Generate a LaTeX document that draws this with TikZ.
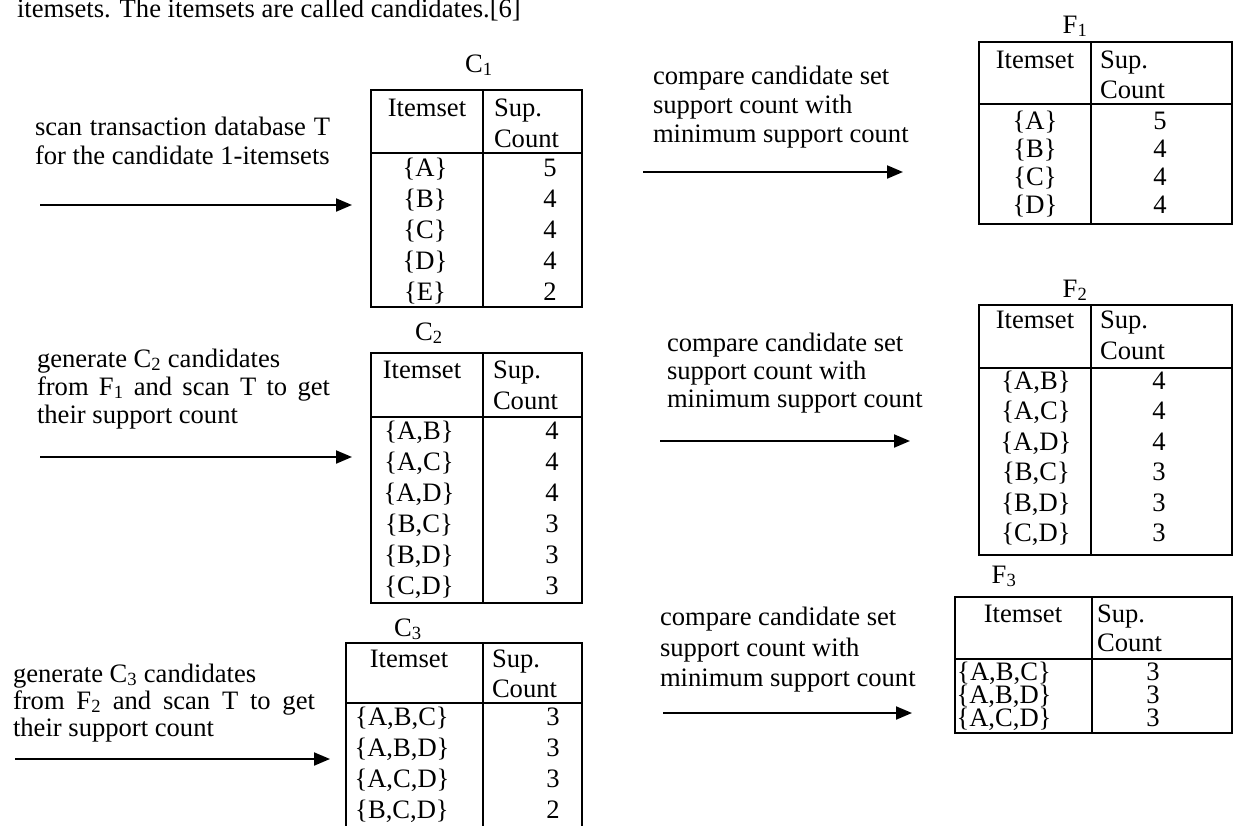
\documentclass[tikz,border=0pt]{standalone}
\usepackage{fontspec}
\setmainfont{Liberation Serif}
\usetikzlibrary{arrows.meta}
\newcommand\bodyfont{\fontsize{26.6}{29}\selectfont}
\newcommand\tframe[6]{%
  \draw[frame] (#1,#4) rectangle (#3,#6);
  \draw[frame] (#1,#5) -- (#3,#5);
  \draw[frame] (#2,#4) -- (#2,#6);}
\newcommand\thead[5]{%
  \node[ct] (#1it) at (#2,#4) {Itemset};
  \node[lt] (#1sup) at (#3,#4) {Sup.};
  \node[lt] (#1cnt) at (#3,#5) {Count};}
\newcommand\trow[6]{%
  \node[ct] (#1i) at (#2,#4) {#5};
  \node[ct] (#1n) at (#3,#4) {#6};}
\tikzset{
  txt/.style={inner sep=0pt, outer sep=0pt, font=\bodyfont},
  lt/.style={txt, anchor=base west},
  ct/.style={txt, anchor=base},
  frame/.style={line width=2pt},
  flow/.style={line width=2pt, -{Triangle[length=16pt,width=13pt]}},
}
\begin{document}
\begin{tikzpicture}[x=1pt,y=-1pt]
\useasboundingbox (0,0) rectangle (1234,825);
\clip (0,0) rectangle (1234,825);

% top text
\node[lt] (top) at (17,17) {itemsets. The itemsets are called candidates.[6]};

% ---------- left texts and arrows
\node[lt] (l1a) at (35,135) {\makebox[295pt][s]{scan transaction database T}};
\node[lt] (l1b) at (35,164) {for the candidate 1-itemsets};
\coordinate (a1s) at (40,205); \coordinate (a1e) at (352,205);
\draw[flow] (a1s) -- (a1e);

\node[lt] (l2a) at (37,367) {generate C\textsubscript{2} candidates};
\node[lt] (l2b) at (37,395) {\makebox[293pt][s]{from F\textsubscript{1} and scan T to get}};
\node[lt] (l2c) at (37,423) {their support count};
\coordinate (a2s) at (40,457); \coordinate (a2e) at (352,457);
\draw[flow] (a2s) -- (a2e);

\node[lt] (l3a) at (13,682) {generate C\textsubscript{3} candidates};
\node[lt] (l3b) at (13,709) {\makebox[302pt][s]{from F\textsubscript{2} and scan T to get}};
\node[lt] (l3c) at (13,736) {their support count};
\coordinate (a3s) at (15,759); \coordinate (a3e) at (330,759);
\draw[flow] (a3s) -- (a3e);

% ---------- middle texts and arrows
\node[lt] (m1a) at (653,84) {compare candidate set};
\node[lt] (m1b) at (653,113) {support count with};
\node[lt] (m1c) at (653,142) {minimum support count};
\coordinate (b1s) at (643,172); \coordinate (b1e) at (903,172);
\draw[flow] (b1s) -- (b1e);

\node[lt] (m2a) at (667,351) {compare candidate set};
\node[lt] (m2b) at (667,379) {support count with};
\node[lt] (m2c) at (667,407) {minimum support count};
\coordinate (b2s) at (660,441); \coordinate (b2e) at (910,441);
\draw[flow] (b2s) -- (b2e);

\node[lt] (m3a) at (660,625) {compare candidate set};
\node[lt] (m3b) at (660,656) {support count with};
\node[lt] (m3c) at (660,686) {minimum support count};
\coordinate (b3s) at (663,713); \coordinate (b3e) at (912,713);
\draw[flow] (b3s) -- (b3e);

% ---------- C1
\node[ct] (C1lab) at (479,72) {C\textsubscript{1}};
\tframe{371}{483}{582}{90}{153}{307}
\thead{c1}{427}{494}{116}{147}
\trow{c1a}{425}{550}{176}{\{A\}}{5}
\trow{c1b}{425}{550}{207}{\{B\}}{4}
\trow{c1c}{425}{550}{238}{\{C\}}{4}
\trow{c1d}{425}{550}{269}{\{D\}}{4}
\trow{c1e}{425}{550}{300}{\{E\}}{2}

% ---------- C2
\node[ct] (C2lab) at (429,340) {C\textsubscript{2}};
\tframe{371}{483}{582}{353}{417}{603}
\thead{c2}{422}{493}{378}{409}
\trow{c2a}{419}{552}{439}{\{A,B\}}{4}
\trow{c2b}{419}{552}{470}{\{A,C\}}{4}
\trow{c2c}{419}{552}{501}{\{A,D\}}{4}
\trow{c2d}{419}{552}{532}{\{B,C\}}{3}
\trow{c2e}{419}{552}{563}{\{B,D\}}{3}
\trow{c2f}{419}{552}{594}{\{C,D\}}{3}

% ---------- C3
\node[ct] (C3lab) at (408,636) {C\textsubscript{3}};
\tframe{346}{483}{582}{643}{703}{850}
\thead{c3}{409}{492}{667}{697}
\trow{c3a}{402}{553}{725}{\{A,B,C\}}{3}
\trow{c3b}{402}{553}{756}{\{A,B,D\}}{3}
\trow{c3c}{402}{553}{787}{\{A,C,D\}}{3}
\trow{c3d}{402}{553}{818}{\{B,C,D\}}{2}

% ---------- F1
\node[ct] (F1lab) at (1075,33) {F\textsubscript{1}};
\tframe{979}{1091}{1232}{42}{104}{224}
\thead{f1}{1035}{1100}{68}{98}
\trow{f1a}{1035}{1160}{129}{\{A\}}{5}
\trow{f1b}{1035}{1160}{157}{\{B\}}{4}
\trow{f1c}{1035}{1160}{185}{\{C\}}{4}
\trow{f1d}{1035}{1160}{213}{\{D\}}{4}

% ---------- F2
\node[ct] (F2lab) at (1075,297) {F\textsubscript{2}};
\tframe{979}{1091}{1232}{305}{368}{555}
\thead{f2}{1035}{1100}{328}{359}
\trow{f2a}{1036}{1159}{389}{\{A,B\}}{4}
\trow{f2b}{1036}{1159}{419.5}{\{A,C\}}{4}
\trow{f2c}{1036}{1159}{450}{\{A,D\}}{4}
\trow{f2d}{1036}{1159}{480.5}{\{B,C\}}{3}
\trow{f2e}{1036}{1159}{511}{\{B,D\}}{3}
\trow{f2f}{1036}{1159}{541.5}{\{C,D\}}{3}

% ---------- F3
\node[ct] (F3lab) at (1004,583) {F\textsubscript{3}};
\tframe{955}{1092}{1232}{597}{659}{733}
\thead{f3}{1023}{1097}{622}{651}
\trow{f3a}{1004}{1153}{680}{\{A,B,C\}}{3}
\trow{f3b}{1004}{1153}{703}{\{A,B,D\}}{3}
\trow{f3c}{1004}{1153}{726}{\{A,C,D\}}{3}
\end{tikzpicture}
\end{document}
